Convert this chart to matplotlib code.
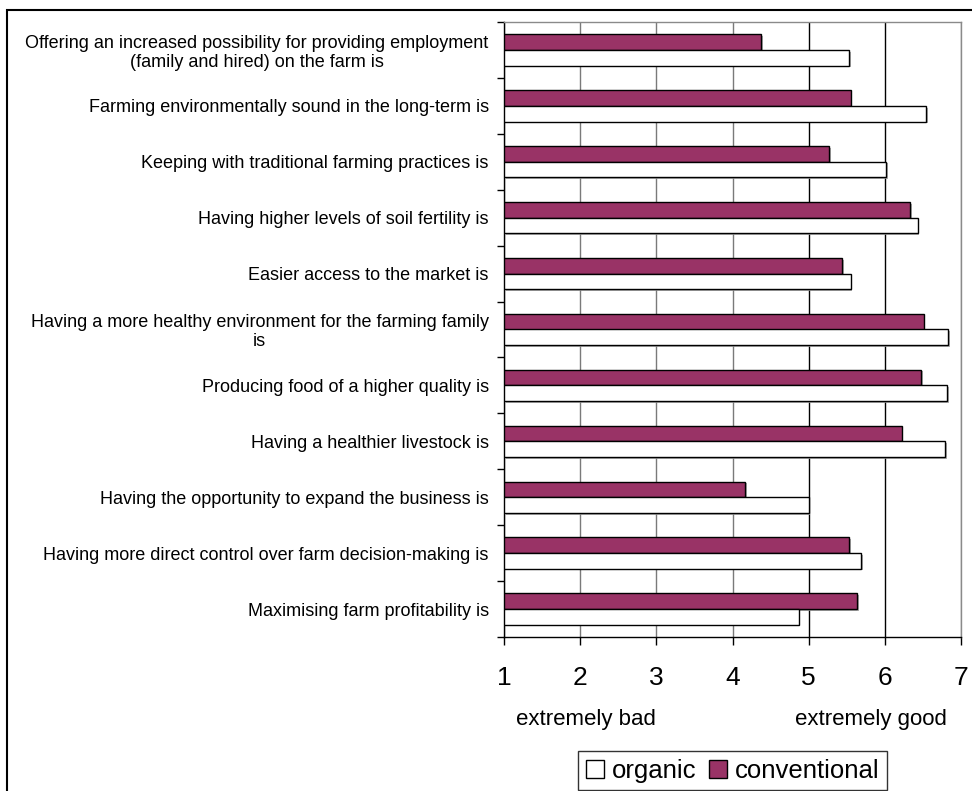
import matplotlib
matplotlib.use('Agg')
import matplotlib.pyplot as plt
import matplotlib.patheffects as pe
import matplotlib.transforms as mtransforms
from matplotlib.patches import Rectangle, Patch
from matplotlib.ticker import FixedLocator
import numpy as np

plt.rcParams['font.family'] = ['Liberation Sans', 'DejaVu Sans']

categories = [
    "Offering an increased possibility for providing employment\n(family and hired) on the farm is",
    "Farming environmentally sound in the long-term is",
    "Keeping with traditional farming practices is",
    "Having higher levels of soil fertility is",
    "Easier access to the market is",
    "Having a more healthy environment for the farming family\nis",
    "Producing food of a higher quality is",
    "Having a healthier livestock is",
    "Having the opportunity to expand the business is",
    "Having more direct control over farm decision-making is",
    "Maximising farm profitability is",
]
organic = [5.53, 6.54, 6.02, 6.43, 5.55, 6.83, 6.82, 6.79, 5.00, 5.69, 4.87]
conventional = [4.38, 5.55, 5.27, 6.33, 5.44, 6.51, 6.48, 6.22, 4.17, 5.53, 5.64]
x_ticks = [1, 2, 3, 4, 5, 6, 7]
scale_labels = ["extremely bad", "extremely good"]
series_names = ["organic", "conventional"]

W, H = 972, 791
fig = plt.figure(figsize=(W / 100, H / 100), dpi=100)
ax = fig.add_axes([504 / W, 1 - 637 / H, (961 - 504) / W, (637 - 22) / H])

conv_color = '#993366'
bar_h = 0.28
y = np.arange(len(categories))
shadow = [pe.SimplePatchShadow(offset=(1.2, -1.2), shadow_rgbFace='#9a9a9a', alpha=0.8), pe.Normal()]

conv_bars = ax.barh(y - bar_h / 2, np.array(conventional) - x_ticks[0], left=x_ticks[0], height=bar_h,
                    color=conv_color, edgecolor='black', linewidth=1.0, zorder=3)
org_bars = ax.barh(y + bar_h / 2, np.array(organic) - x_ticks[0], left=x_ticks[0], height=bar_h,
                   color='white', edgecolor='black', linewidth=1.0, zorder=3)
for b in list(conv_bars) + list(org_bars):
    b.set_path_effects(shadow)

ax.set_xlim(x_ticks[0], x_ticks[-1])
ax.set_ylim(len(categories) - 0.5, -0.5)

ax.set_xticks(x_ticks)
ax.set_xticklabels([str(t) for t in x_ticks], fontsize=19)
ax.tick_params(axis='x', direction='out', length=6, width=1, pad=15, colors='black')

ax.set_yticks(y)
ax.set_yticklabels(categories, fontsize=13, multialignment='center', linespacing=1.15)
ax.tick_params(axis='y', which='major', length=0, pad=11)
ax.yaxis.set_minor_locator(FixedLocator(np.arange(len(categories) + 1) - 0.5))
ax.tick_params(axis='y', which='minor', direction='out', length=5, width=1, colors='black')

ax.xaxis.grid(True, zorder=0)
ax.set_axisbelow(True)
for loc, gl in zip(x_ticks, ax.get_xgridlines()):
    if loc in (5, 6):
        gl.set_color('black')
    else:
        gl.set_color('#7a7a7a')
    gl.set_linewidth(1.0)

ax.spines['left'].set_color('black')
ax.spines['bottom'].set_color('black')
ax.spines['top'].set_color('#8a8a8a')
ax.spines['right'].set_color('#8a8a8a')
for s in ax.spines.values():
    s.set_linewidth(1.0)

# scale captions
trans = mtransforms.blended_transform_factory(ax.transData, fig.transFigure)
ax.text(2.08, 1 - 725 / H, scale_labels[0], transform=trans, ha='center', va='baseline', fontsize=16)
ax.text(5.82, 1 - 725 / H, scale_labels[1], transform=trans, ha='center', va='baseline', fontsize=16)

# legend
handles = [Patch(facecolor='white', edgecolor='black', linewidth=1.0),
           Patch(facecolor=conv_color, edgecolor='black', linewidth=1.0)]
leg = fig.legend(handles, series_names, loc='upper center', bbox_to_anchor=(732.5 / W, 1 - 751 / H),
                 ncol=2, fontsize=18.5, frameon=True, fancybox=False, shadow=False,
                 handlelength=0.7, handleheight=0.7, handletextpad=0.3, columnspacing=0.5,
                 borderpad=0.3, borderaxespad=0)
leg.get_frame().set_edgecolor('black')
leg.get_frame().set_linewidth(1.0)

# outer border
fig.patches.append(Rectangle((7 / W, -0.05), 1.1, 1 - 10 / H + 0.05, transform=fig.transFigure,
                             fill=False, edgecolor='black', linewidth=1.5, zorder=10))

fig.savefig('out.png', dpi=100)
